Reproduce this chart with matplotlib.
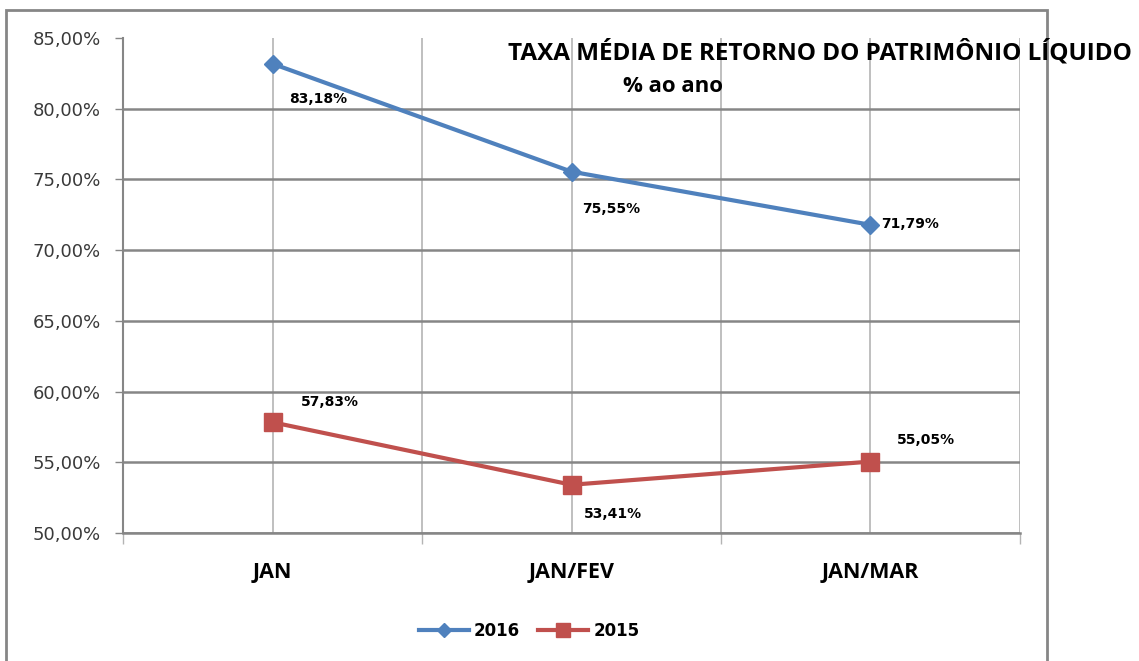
import matplotlib.pyplot as plt
from matplotlib.patches import Rectangle

# data
periods = ['JAN', 'JAN/FEV', 'JAN/MAR']
taxa_2016 = [83.18, 75.55, 71.79]
taxa_2015 = [57.83, 53.41, 55.05]
labels_2016 = ['83,18%', '75,55%', '71,79%']
labels_2015 = ['57,83%', '53,41%', '55,05%']
y_ticks = [50, 55, 60, 65, 70, 75, 80, 85]
y_ticklabels = ['50,00%', '55,00%', '60,00%', '65,00%', '70,00%', '75,00%', '80,00%', '85,00%']

blue = '#4F81BD'
red = '#C0504D'
grid_dark = '#868686'
grid_light = '#B4B4B4'

fig = plt.figure(figsize=(11.39, 6.61), dpi=100)
ax = fig.add_axes([123 / 1139, 1 - 533 / 661, 897 / 1139, 495 / 661])

x = list(range(len(periods)))
ax.plot(x, taxa_2016, color=blue, lw=3, marker='D', ms=9, mec=blue, mfc=blue, label='2016', zorder=4)
ax.plot(x, taxa_2015, color=red, lw=3, marker='s', ms=13, mec=red, mfc=red, label='2015', zorder=4)

# data labels (offsets in pixels)
off_2016 = [(46, -35), (40, -37), (40, 1)]
off_2015 = [(57, 20), (41, -29), (55, 22)]
for xi, v, lab, off in zip(x, taxa_2016, labels_2016, off_2016):
    ax.annotate(lab, (xi, v), xytext=off, textcoords='offset pixels', ha='center', va='center',
                fontsize=10, fontweight='bold', color='black', zorder=5)
for xi, v, lab, off in zip(x, taxa_2015, labels_2015, off_2015):
    ax.annotate(lab, (xi, v), xytext=off, textcoords='offset pixels', ha='center', va='center',
                fontsize=10, fontweight='bold', color='black', zorder=5)

ax.set_xlim(-0.5, 2.5)
ax.set_ylim(50, 85)

ax.set_yticks(y_ticks)
ax.set_yticklabels(y_ticklabels, fontsize=13, color='#3a3a3a')
ax.tick_params(axis='y', length=6, width=1, color=grid_dark, pad=10)

ax.set_xticks(x)
ax.set_xticklabels(periods, fontsize=15.5, fontweight='bold', family='Open Sans')
ax.set_xticks([-0.5, 0.5, 1.5, 2.5], minor=True)
ax.tick_params(axis='x', which='major', length=0, pad=21)
ax.tick_params(axis='x', which='minor', length=8, width=1, color=grid_light)

# gridlines
ax.yaxis.grid(True, color=grid_dark, lw=1.8)
ax.get_ygridlines()[-1].set_visible(False)
ax.xaxis.grid(True, which='both', color=grid_light, lw=1.2)
ax.set_axisbelow(True)

for side in ['top', 'right']:
    ax.spines[side].set_visible(False)
ax.spines['left'].set_color(grid_dark)
ax.spines['left'].set_linewidth(1.5)
ax.spines['bottom'].set_color(grid_dark)
ax.spines['bottom'].set_linewidth(1.8)

# title inside chart
fig.text(508 / 1139, 1 - 53 / 661, 'TAXA MÉDIA DE RETORNO DO PATRIMÔNIO LÍQUIDO', ha='left', va='center',
         fontsize=17.5, fontweight='bold', family='Open Sans', zorder=10)
fig.text(673 / 1139, 1 - 87 / 661, '% ao ano', ha='center', va='center',
         fontsize=16, fontweight='bold', family='Open Sans', zorder=10)

# outer chart frame
frame = Rectangle((6 / 1139, -0.1), (1047 - 6) / 1139, 1.1 - 10 / 661, transform=fig.transFigure,
                  fill=False, edgecolor=grid_dark, lw=2, zorder=0)
fig.patches.append(frame)

leg = fig.legend(loc='center', bbox_to_anchor=(529 / 1139, 1 - 631 / 661), ncol=2, frameon=False,
                 prop={'size': 12, 'weight': 'bold'}, handlelength=3, handletextpad=0.3,
                 columnspacing=1.1, markerscale=0.8)

fig.savefig('out.png', dpi=100)
